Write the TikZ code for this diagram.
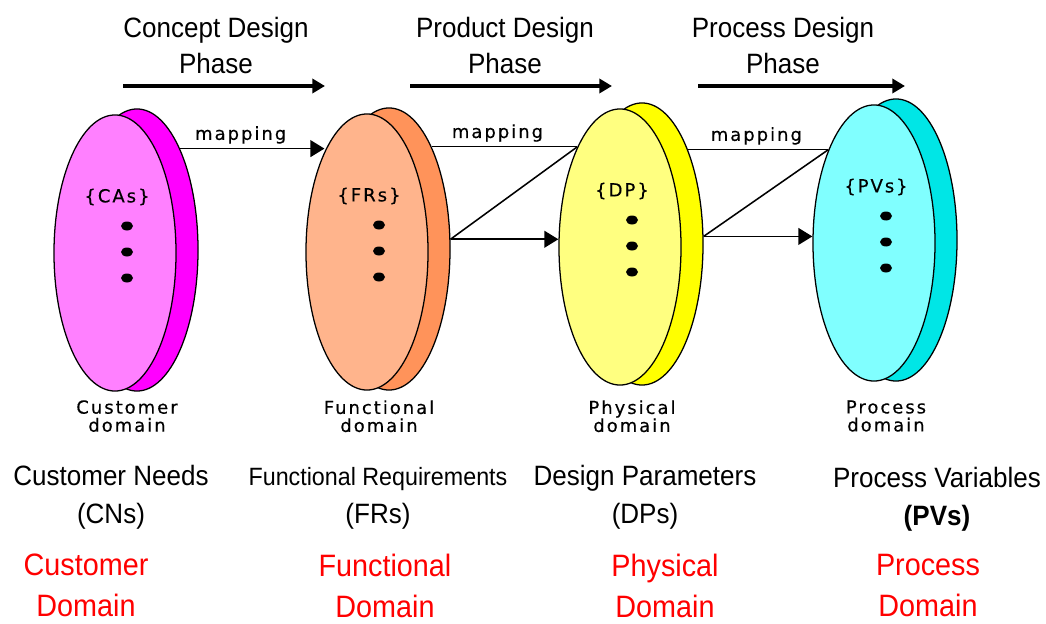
\documentclass[tikz,border=0pt]{standalone}
\usepackage{fontspec}
\setmainfont{Liberation Sans}[FakeStretch=0.93]
\newfontfamily\pixfont{DejaVu Sans}[LetterSpace=11, FakeBold=0.4]
\usetikzlibrary{shapes.geometric,arrows.meta}

\definecolor{caFront}{HTML}{FF80FF}
\definecolor{caBack}{HTML}{FF00FF}
\definecolor{frFront}{HTML}{FFB48C}
\definecolor{frBack}{HTML}{FF935A}
\definecolor{dpFront}{HTML}{FFFF80}
\definecolor{dpBack}{HTML}{FFFF00}
\definecolor{pvFront}{HTML}{80FFFF}
\definecolor{pvBack}{HTML}{00E6E6}

\tikzset{
    disc/.style={ellipse, draw, line width=0.9pt, inner sep=0pt,
        minimum width=3.05cm, minimum height=6.9cm},
    back disc/.style={disc, minimum height=7.05cm},
    pix/.style={font=\pixfont\fontsize{12.8pt}{12.8pt}\selectfont,
        inner sep=0pt, align=center},
    phase/.style={font=\fontsize{19.9pt}{25.6pt}\selectfont,
        align=center, inner sep=0pt, anchor=north},
    phase arrow/.style={line width=2.5pt, -{Triangle[length=9pt,width=10pt]}},
    map line/.style={line width=1.1pt},
    map arrow/.style={map line, -{Triangle[length=10pt,width=12pt]}},
    var/.style={font=\fontsize{19.9pt}{27.3pt}\selectfont,
        align=center, inner sep=0pt, anchor=north},
    dom/.style={font=\fontsize{22pt}{29.2pt}\selectfont, text=red,
        align=center, inner sep=0pt, anchor=north},
}

\begin{document}
\begin{tikzpicture}[x=0.025cm, y=-0.025cm]
    \useasboundingbox (0,0) rectangle (1046,624);

    % name, centre x, centre y, front colour, back colour, set, caption
    \def\domain#1#2#3#4#5#6#7{%
        \node[back disc, fill=#5] (#1 back) at (#2+22,#3-3) {};
        \node[disc, fill=#4] (#1) at (#2,#3) {};
        \node[pix] (#1 set) at (#2+2,#3-56) {\{#6\}};
        \foreach \dy in {-27,-1,25}
            \fill (#2+12,#3+\dy) ellipse [x radius=6, y radius=4.5];
        \node[pix, anchor=north] (#1 name) at (#2+12,400) {#7};
    }

    \domain{ca}{115}{253}{caFront}{caBack}{CAs}{Customer\\domain}
    \domain{fr}{367}{252}{frFront}{frBack}{FRs}{Functional\\domain}
    \domain{dp}{620}{247}{dpFront}{dpBack}{DP}{Physical\\domain}
    \domain{pv}{874}{243}{pvFront}{pvBack}{PVs}{Process\\domain}

    % mappings between the domains
    \draw[map arrow] (ca back.67) -- node[pix, pos=0.42, above=3pt] (map ca) {mapping}
        (ca back.67 -| fr.113);

    \draw[map line] (dp.113) -- node[pix, pos=0.55, above=3pt] (map fr) {mapping}
        (dp.113 -| fr back.67);
    \draw[map line] (dp.113) -- (fr back.9);
    \draw[map arrow] (fr back.9) -- (fr back.9 -| dp.west);

    \draw[map line] (pv.116) -- node[pix, pos=0.51, above=3pt] (map dp) {mapping}
        (pv.116 -| dp back.65);
    \draw[map line] (pv.116) -- (dp back.7);
    \draw[map arrow] (dp back.7) -- (dp back.7 -| pv.west);

    % design phases
    \node[phase] (concept) at (216,17) {Concept Design\\Phase};
    \node[phase] (product) at (505,17) {Product Design\\Phase};
    \node[phase] (process) at (783,17) {Process Design\\Phase};
    \foreach \name/\a/\b in {concept/123/325, product/410/612, process/698/905} {
        \coordinate (\name start) at (\a,86);
        \coordinate (\name end) at (\b,86);
        \draw[phase arrow] (\name start) -- (\name end);
    }

    % what each domain holds
    \node[var] (ca var) at (111,465) {Customer Needs\\(CNs)};
    \node[var] (fr var) at (378,467) {{\fontsize{17.8pt}{27.3pt}\selectfont Functional Requirements}\\(FRs)};
    \node[var] (dp var) at (645,465) {Design Parameters\\(DPs)};
    \node[var] (pv var) at (937,467) {Process Variables\\\textbf{(PVs)}};

    \node[dom] (ca dom) at (86,554) {Customer\\Domain};
    \node[dom] (fr dom) at (385,554) {Functional\\Domain};
    \node[dom] (dp dom) at (665,554) {Physical\\Domain};
    \node[dom] (pv dom) at (928,554) {Process\\Domain};
\end{tikzpicture}
\end{document}
